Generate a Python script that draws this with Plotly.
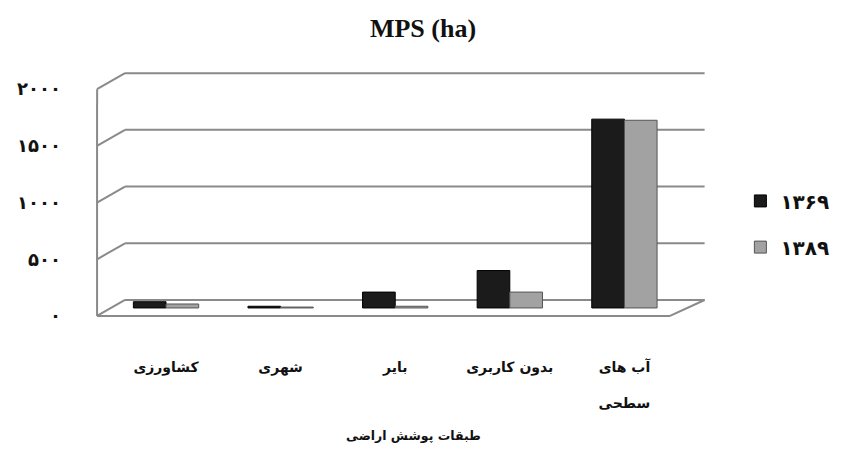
import plotly.graph_objects as go

# ---- data ----
categories = ["کشاورزی", "شهری", "بایر", "بدون کاربری", "آب های<br><br>سطحی"]
series_names = ["۱۳۶۹", "۱۳۸۹"]
values_1369 = [55, 15, 140, 330, 1665]
values_1389 = [35, 8, 15, 140, 1655]
tick_values = [0, 500, 1000, 1500, 2000]
tick_labels = ["۰", "۵۰۰", "۱۰۰۰", "۱۵۰۰", "۲۰۰۰"]
title_text = "MPS (ha)"
x_title = "طبقات پوشش اراضی"

# ---- geometry / style ----
FA = "DejaVu Sans"
colors = ["#1b1b1b", "#a2a2a2"]
line_colors = ["#000000", "#555555"]
depth_y = 141          # back-wall offset in value units (~16px)
x_front = -0.602       # front-left edge (x units)
x_back = -0.358        # back-left edge
x_front_r = 4.398      # front-right floor corner
x_back_r = 4.70        # back-right end
grid_col = "#8a8a8a"

fig = go.Figure()
for name, vals, c, lc, lg in zip(series_names, [values_1369, values_1389], colors, line_colors, ["legend", "legend2"]):
    fig.add_trace(go.Bar(
        x=categories, y=vals, name=name, yaxis="y2", legend=lg,
        marker=dict(color=c, line=dict(color=lc, width=1)),
    ))

shapes = []
# front-left vertical edge
shapes.append(dict(type="line", xref="x", yref="y", x0=x_front, x1=x_front + 0.0005, y0=0, y1=2000,
                   line=dict(color=grid_col, width=2), layer="below"))
for v in tick_values:
    shapes.append(dict(type="line", xref="x", yref="y", x0=x_front, x1=x_back, y0=v, y1=v + depth_y,
                       line=dict(color=grid_col, width=2), layer="below"))
    shapes.append(dict(type="line", xref="x", yref="y", x0=x_back, x1=x_back_r, y0=v + depth_y, y1=v + depth_y,
                       line=dict(color=grid_col, width=2), layer="below"))
# floor front edge and right diagonal
shapes.append(dict(type="line", xref="x", yref="y", x0=x_front, x1=x_front_r, y0=0, y1=0,
                   line=dict(color=grid_col, width=2), layer="below"))
shapes.append(dict(type="line", xref="x", yref="y", x0=x_front_r, x1=x_back_r, y0=0, y1=depth_y,
                   line=dict(color=grid_col, width=2), layer="below"))

fig.update_layout(
    width=846, height=466,
    margin=dict(l=92, r=140, t=71, b=148),
    paper_bgcolor="white", plot_bgcolor="white",
    barmode="group", bargap=0.43, bargroupgap=0,
    title=dict(text=title_text, x=0.5, xref="container", xanchor="center",
               y=1 - 28 / 466, yref="container", yanchor="middle",
               font=dict(family="Liberation Serif", size=26, color="#111", weight="bold")),
    xaxis=dict(type="category", range=[-0.646, 4.712], showgrid=False, zeroline=False,
               showline=False, ticks="", ticklabelstandoff=39,
               tickfont=dict(family=FA, size=14, color="#111", weight="bold")),
    yaxis=dict(range=[-18, 2160], tickvals=tick_values, ticktext=tick_labels,
               showgrid=False, zeroline=False, showline=False, ticks="",
               ticklabelstandoff=30,
               tickfont=dict(family=FA, size=18, color="#111", weight="bold")),
    yaxis2=dict(range=[-88.5, 2089.5], overlaying="y", visible=False),
    legend=dict(x=1.056, y=0.474, xanchor="left", yanchor="middle",
                font=dict(family=FA, size=20, color="#111", weight="bold"), bgcolor="rgba(0,0,0,0)"),
    legend2=dict(x=1.056, y=0.287, xanchor="left", yanchor="middle",
                 font=dict(family=FA, size=20, color="#111", weight="bold"), bgcolor="rgba(0,0,0,0)"),
    annotations=[dict(text=x_title, xref="paper", yref="paper", x=0.524, y=-0.474,
                      xanchor="center", yanchor="middle", showarrow=False,
                      font=dict(family=FA, size=12.5, color="#111", weight="bold"))],
    shapes=shapes,
    showlegend=True,
)

fig.write_html("out.html", config={"displayModeBar": False},
               post_script="document.body.style.margin='0';")
